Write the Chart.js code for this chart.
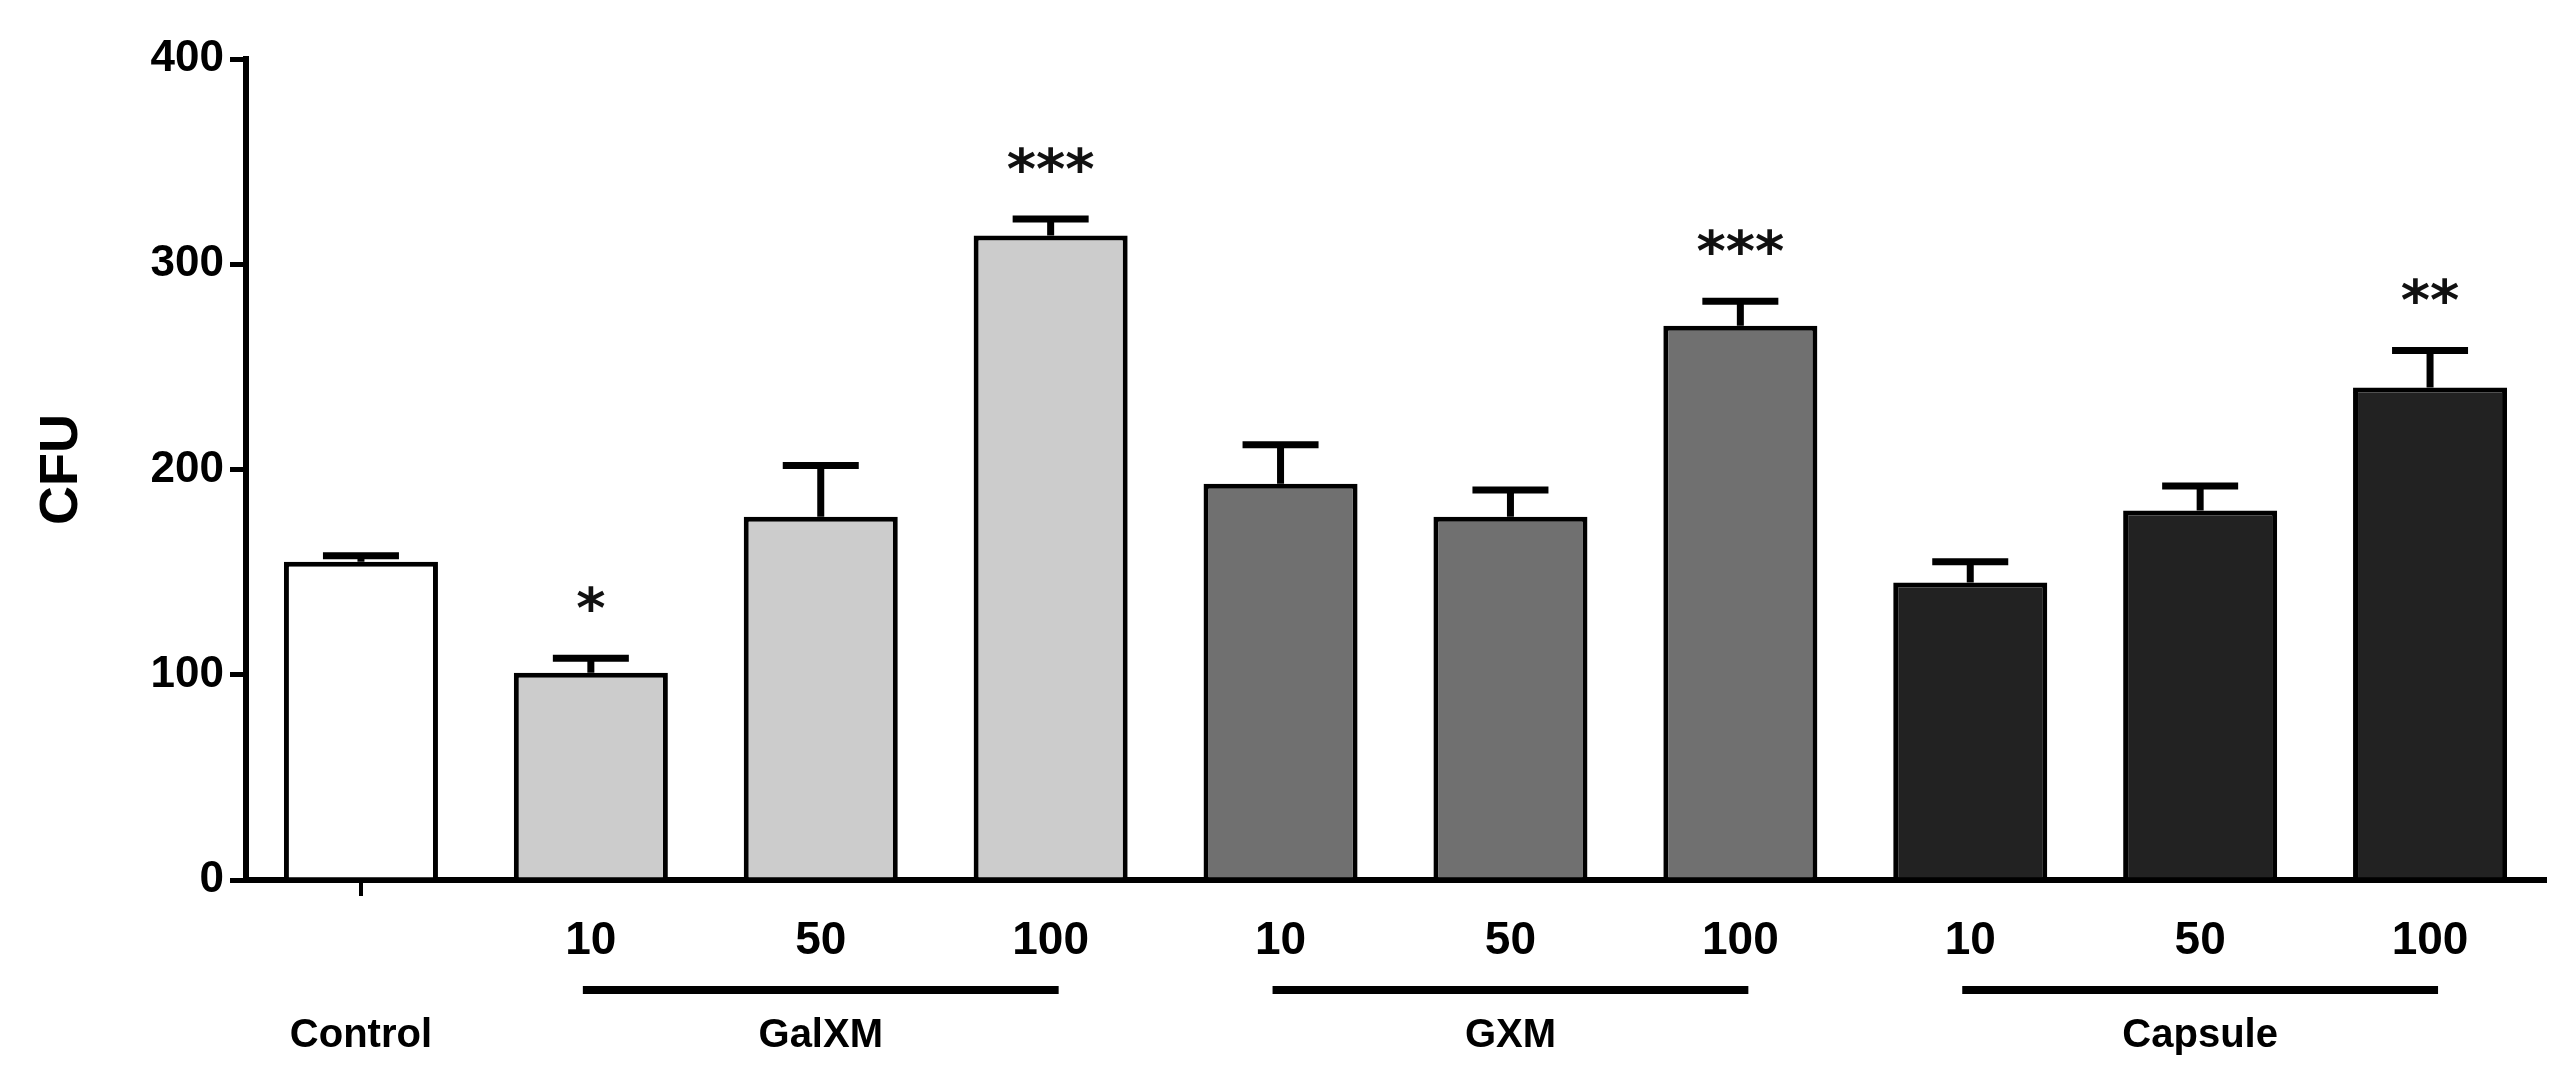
<!DOCTYPE html>
<html>
<head>
<meta charset="utf-8">
<script src="https://cdn.jsdelivr.net/npm/chart.js@4.4.0/dist/chart.umd.min.js"></script>
<style>
  html, body { margin: 0; padding: 0; background: #fff; }
  #wrap { width: 2575px; height: 1083px; }
</style>
</head>
<body>
<div id="wrap"><canvas id="cfuChart"></canvas></div>
<script>
// --- Data ---
const doseLabels = ['', '10', '50', '100', '10', '50', '100', '10', '50', '100'];
const cfuMeans = [155, 101, 177, 314, 193, 177, 270, 145, 180, 240];
const cfuErrTop = [158, 108, 202, 322, 212, 190, 282, 155, 192, 258];
const stars = ['', '*', '', '***', '', '', '***', '', '', '**'];
const barColors = ['#ffffff', '#cccccc', '#cccccc', '#cccccc', '#707070', '#707070', '#707070',
                   '#222222', '#222222', '#222222'];
const groupNames = ['Control', 'GalXM', 'GXM', 'Capsule'];
const groupSpans = [[0, 0], [1, 3], [4, 6], [7, 9]];
const yTicks = [0, 100, 200, 300, 400];

const FONT = '"Liberation Sans Narrow", "Liberation Sans", Arial, sans-serif';

// error bars + significance stars
const errorBarPlugin = {
    id: 'errorBars',
    afterDatasetsDraw(chart) {
        const ctx = chart.ctx;
        const y = chart.scales.y;
        const meta = chart.getDatasetMeta(0);
        ctx.save();
        ctx.strokeStyle = '#000';
        ctx.fillStyle = '#111';
        meta.data.forEach((bar, i) => {
            const yMean = y.getPixelForValue(cfuMeans[i]);
            const yTop = y.getPixelForValue(cfuErrTop[i]);
            ctx.lineWidth = 7;
            ctx.beginPath();
            ctx.moveTo(bar.x, yMean);
            ctx.lineTo(bar.x, yTop);
            ctx.moveTo(bar.x - 38, yTop);
            ctx.lineTo(bar.x + 38, yTop);
            ctx.stroke();
            if (stars[i]) {
                ctx.font = 'bold 56px "DejaVu Sans", sans-serif';
                ctx.textAlign = 'center';
                ctx.textBaseline = 'middle';
                ctx.fillText(stars[i], bar.x, yTop - 46);
            }
        });
        ctx.restore();
    }
};

// group underline + group names
const groupPlugin = {
    id: 'groups',
    afterDraw(chart) {
        const ctx = chart.ctx;
        const x = chart.scales.x;
        ctx.save();
        ctx.fillStyle = '#000';
        ctx.font = 'bold 40px ' + FONT;
        ctx.textAlign = 'center';
        ctx.textBaseline = 'middle';
        groupSpans.forEach((span, g) => {
            const x0 = x.getPixelForValue(span[0]);
            const x1 = x.getPixelForValue(span[1]);
            if (span[1] > span[0]) {
                ctx.fillRect(x0 - 8, 986, x1 - x0 + 16, 8);
            }
            ctx.fillText(groupNames[g], (x0 + x1) / 2, 1036);
        });
        ctx.restore();
    }
};

new Chart(document.getElementById('cfuChart'), {
    type: 'bar',
    data: {
        labels: doseLabels,
        datasets: [{
            data: cfuMeans,
            backgroundColor: barColors,
            borderColor: '#000',
            borderWidth: 5,
            borderSkipped: 'bottom',
            barPercentage: 0.67,
            categoryPercentage: 1.0
        }]
    },
    options: {
        responsive: true,
        maintainAspectRatio: false,
        animation: false,
        layout: { padding: { top: 59, right: 30, left: 0, bottom: 0 } },
        plugins: {
            legend: { display: false },
            tooltip: { enabled: false }
        },
        scales: {
            x: {
                afterFit(scale) { scale.height = 203; },
                grid: {
                    display: true, offset: false, drawOnChartArea: false, drawTicks: true, tickLength: 16,
                    color: ctx => ctx.index === 0 ? '#000' : 'rgba(0,0,0,0)', lineWidth: 4
                },
                border: { display: true, color: '#000', width: 6 },
                ticks: {
                    color: '#000',
                    padding: 18,
                    font: { family: FONT, size: 46, weight: 'bold' }
                }
            },
            y: {
                min: 0,
                max: 400,
                afterFit(scale) { scale.width = 246; },
                afterBuildTicks(scale) { scale.ticks = yTicks.map(v => ({ value: v })); },
                grid: { display: true, drawOnChartArea: false, drawTicks: true, tickLength: 16, color: '#000', lineWidth: 5 },
                border: { display: true, color: '#000', width: 6 },
                ticks: {
                    color: '#000',
                    padding: 6,
                    font: { family: FONT, size: 44, weight: 'bold' }
                },
                title: {
                    display: true,
                    text: 'CFU',
                    color: '#000',
                    padding: { top: 30, bottom: 10 },
                    font: { family: '"Liberation Sans", Arial, sans-serif', size: 54, weight: 'bold' }
                }
            }
        }
    },
    plugins: [errorBarPlugin, groupPlugin]
});
</script>
</body>
</html>
